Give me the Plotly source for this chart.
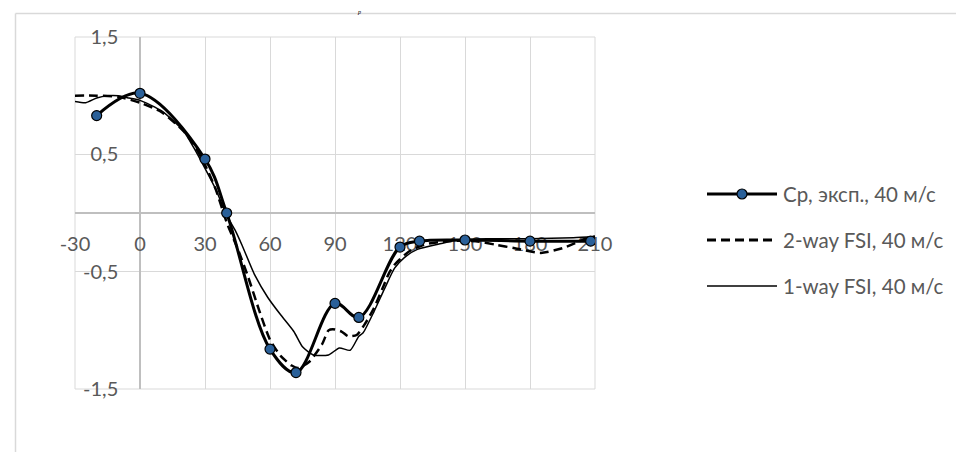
import plotly.graph_objects as go

# ---- data ----
exp_x = [-20, 0, 30, 40, 60, 72, 90, 101, 120, 129, 150, 180, 208]
exp_y = [0.83, 1.02, 0.46, 0.0, -1.16, -1.36, -0.77, -0.89, -0.29, -0.24, -0.23, -0.24, -0.24]

two_way_x = [-30, -20, -10, 0, 10, 20, 25, 30, 35, 40, 45, 50, 55, 60, 65, 70, 73, 78, 84, 87,
             89, 93, 96, 100, 104, 108, 112, 115, 118, 124, 131, 142, 155, 164, 173, 185, 195, 207, 210]
two_way_y = [1.0, 1.0, 0.99, 0.94, 0.86, 0.7, 0.58, 0.41, 0.2, -0.08, -0.3, -0.55, -0.83, -1.08, -1.22,
             -1.3, -1.32, -1.27, -1.12, -1.0, -0.99, -1.01, -1.05, -1.04, -0.94, -0.81, -0.64, -0.51,
             -0.43, -0.33, -0.27, -0.24, -0.24, -0.27, -0.30, -0.34, -0.30, -0.21, -0.20]

one_way_x = [-30, -25, -20, -15, -10, -5, 0, 10, 20, 25, 30, 35, 40, 44, 47, 53, 59, 65, 71, 75, 80,
             87, 92, 97, 101, 103, 108, 113, 117.5, 122, 128, 139, 147, 160, 180, 200, 210]
one_way_y = [0.95, 0.94, 0.98, 1.0, 1.0, 0.98, 0.96, 0.87, 0.7, 0.55, 0.38, 0.2, -0.02, -0.15, -0.27,
             -0.53, -0.72, -0.87, -1.01, -1.14, -1.21, -1.21, -1.15, -1.17, -1.05, -1.02, -0.84, -0.64,
             -0.47, -0.38, -0.31, -0.26, -0.23, -0.22, -0.22, -0.21, -0.2]

x_ticks = [-30, 0, 30, 60, 90, 120, 150, 180, 210]
x_tick_text = ["-30", "0", "30", "60", "90", "120", "150", "180", "210"]
y_ticks = [-1.5, -0.5, 0.5, 1.5]
y_tick_text = ["-1,5", "-0,5", "0,5", "1,5"]

names = ["Cp, эксп., 40 м/с", "2-way FSI, 40 м/с", "1-way FSI, 40 м/с"]

FONT = "Lato"
TXT = "#595959"
MARK = "#2a6099"
GRID = "#d9d9d9"
AXL = "#bfbfbf"

fig = go.Figure()
fig.add_trace(go.Scatter(x=one_way_x, y=one_way_y, mode="lines", name=names[2],
                         line=dict(color="black", width=1.5, shape="spline", smoothing=0.6)))
fig.add_trace(go.Scatter(x=two_way_x, y=two_way_y, mode="lines", name=names[1],
                         line=dict(color="black", width=2.5, dash="9px,5px", shape="spline", smoothing=0.6)))
fig.add_trace(go.Scatter(x=exp_x, y=exp_y, mode="lines+markers", name=names[0],
                         line=dict(color="black", width=3, shape="spline", smoothing=1),
                         marker=dict(size=10, color=MARK, line=dict(color="black", width=1.2))))

# pixel -> paper helpers for decoration
L, R, T, B = 67, 587, 29, 381
def px(x):
    return (x - L) / (R - L)
def py(y):
    return (B - y) / (B - T)

shapes = []
annotations = []
# plot-area frame gridlines (edges)
shapes.append(dict(type="rect", xref="paper", yref="paper", x0=0, x1=1, y0=0, y1=1,
                   line=dict(color=GRID, width=1), layer="below"))
# outer chart border (cropped)
shapes.append(dict(type="line", xref="paper", yref="paper", x0=px(7.5), x1=px(964), y0=py(5.5), y1=py(5.5),
                   line=dict(color=GRID, width=1.5)))
shapes.append(dict(type="line", xref="paper", yref="paper", x0=px(7.5), x1=px(7.5), y0=py(5.5), y1=py(452),
                   line=dict(color=GRID, width=1.5)))

# custom legend
leg_y = [186, 232, 278]
lx0, lx1, tx = 699, 769, 773
styles = [dict(color="black", width=3), dict(color="black", width=3, dash="9px,5px"), dict(color="black", width=1.5)]
for i in range(3):
    shapes.append(dict(type="line", xref="paper", yref="paper", x0=px(lx0), x1=px(lx1),
                       y0=py(leg_y[i]), y1=py(leg_y[i]), line=styles[i]))
    annotations.append(dict(xref="paper", yref="paper", x=px(tx), y=py(leg_y[i]), xanchor="left", yanchor="middle",
                            text=names[i], showarrow=False, font=dict(family=FONT, size=20.5, color=TXT)))
shapes.append(dict(type="circle", xref="paper", yref="paper", xsizemode="pixel", ysizemode="pixel",
                   xanchor=px((lx0 + lx1) / 2), yanchor=py(leg_y[0]), x0=-5, x1=5, y0=-5, y1=5,
                   fillcolor=MARK, line=dict(color="black", width=1.2)))

# title fragment at the top edge
annotations.append(dict(xref="paper", yref="paper", x=px(351), y=py(0), xanchor="center", yanchor="top",
                        text="<i>p</i>", showarrow=False, borderpad=0,
                        font=dict(family="Liberation Serif", size=6, color="black")))

fig.update_layout(
    width=964, height=452,
    margin=dict(l=L, r=964 - R, t=T, b=452 - B, autoexpand=False),
    plot_bgcolor="white", paper_bgcolor="white",
    showlegend=False,
    font=dict(family=FONT, size=20, color=TXT),
    shapes=shapes, annotations=annotations,
    xaxis=dict(range=[-30, 210], tickmode="array", tickvals=x_ticks, ticktext=x_tick_text,
               showgrid=True, gridcolor=GRID, gridwidth=1,
               zeroline=True, zerolinecolor=AXL, zerolinewidth=1.5,
               anchor="free", position=0.5, showline=True, linecolor=AXL, linewidth=1.5,
               ticks="", ticklabelstandoff=13, layer="below traces",
               tickfont=dict(family=FONT, size=20, color=TXT)),
    yaxis=dict(range=[-1.5, 1.5], tickmode="array", tickvals=y_ticks, ticktext=y_tick_text,
               showgrid=True, gridcolor=GRID, gridwidth=1,
               zeroline=True, zerolinecolor=AXL, zerolinewidth=1.5,
               anchor="free", position=px(132), showline=True, linecolor=AXL, linewidth=1.5,
               ticks="", ticklabelstandoff=17, layer="below traces",
               tickfont=dict(family=FONT, size=20, color=TXT)),
)

fig.write_html("out.html")
